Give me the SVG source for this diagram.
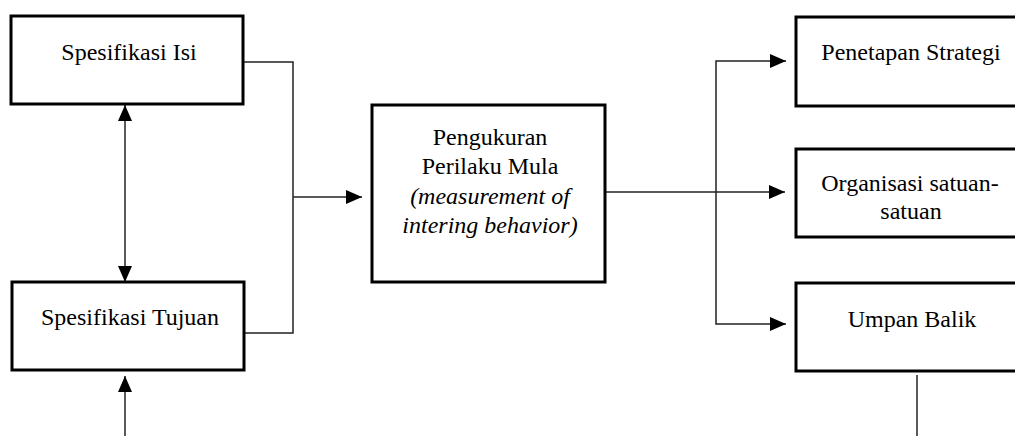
<svg xmlns="http://www.w3.org/2000/svg" width="1015" height="436" viewBox="0 0 1015 436">
<style>
.box{fill:#fff;stroke:#000;stroke-width:3}
.t{font-family:"Liberation Serif","Times New Roman",serif;font-size:24px;fill:#000;text-anchor:middle}
.i{font-style:italic}
.c{fill:none;stroke:#222;stroke-width:1.5}
</style>
<defs>
<marker id="ah" markerUnits="userSpaceOnUse" markerWidth="16" markerHeight="14" refX="16" refY="7" orient="auto-start-reverse" viewBox="0 0 16 14">
<path d="M0,0 L16,7 L0,14 z" fill="#000"/>
</marker>
</defs>
<rect width="1015" height="436" fill="#fff"/>
<g id="connectors">
<polyline class="c" points="243,62 293,62 293,333 244,333"/>
<line class="c" x1="293" y1="197" x2="362" y2="197" marker-end="url(#ah)"/>
<line class="c" x1="125" y1="105" x2="125" y2="282" marker-start="url(#ah)" marker-end="url(#ah)"/>
<line class="c" x1="125" y1="436" x2="125" y2="376" marker-end="url(#ah)"/>
<line class="c" x1="605" y1="192" x2="785" y2="192" marker-end="url(#ah)"/>
<polyline class="c" points="785,61 716,61 716,324 785,324"/>
<line class="c" x1="785" y1="61" x2="786" y2="61" marker-end="url(#ah)"/>
<line class="c" x1="785" y1="324" x2="786" y2="324" marker-end="url(#ah)"/>
<line class="c" x1="917" y1="375" x2="917" y2="436"/>
</g>
<g id="spesifikasi-isi">
<rect class="box" x="11" y="16" width="232" height="88"/>
<text class="t" x="129" y="60">Spesifikasi Isi</text>
</g>
<g id="spesifikasi-tujuan">
<rect class="box" x="12" y="282" width="232" height="88"/>
<text class="t" x="130" y="325">Spesifikasi Tujuan</text>
</g>
<g id="pengukuran">
<rect class="box" x="372" y="105" width="233" height="177"/>
<text class="t" x="490" y="144.5">Pengukuran</text>
<text class="t" x="490" y="174">Perilaku Mula</text>
<text class="t i" x="490" y="203.5">(measurement of</text>
<text class="t i" x="490" y="233">intering behavior)</text>
</g>
<g id="penetapan-strategi">
<rect class="box" x="796" y="17" width="232" height="89"/>
<text class="t" x="911" y="60">Penetapan Strategi</text>
</g>
<g id="organisasi">
<rect class="box" x="796" y="149" width="232" height="88"/>
<text class="t" x="910" y="191">Organisasi satuan-</text>
<text class="t" x="911" y="218.5">satuan</text>
</g>
<g id="umpan-balik">
<rect class="box" x="796" y="283" width="232" height="88"/>
<text class="t" x="912" y="327">Umpan Balik</text>
</g>
</svg>
